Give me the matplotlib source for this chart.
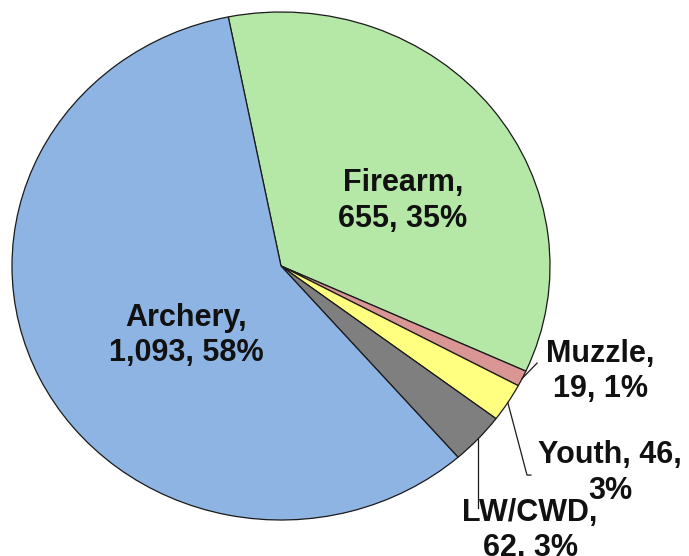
import numpy as np
import matplotlib
matplotlib.use('Agg')
import matplotlib.pyplot as plt

labels = ['Firearm', 'Muzzle', 'Youth', 'LW/CWD', 'Archery']
counts = [655, 19, 46, 62, 1093]
percents = [35, 1, 3, 3, 58]
colors = ['#B5E7A6', '#D99694', '#FFFF80', '#7F7F7F', '#8DB4E2']

plt.rcParams['font.family'] = ['Liberation Sans', 'DejaVu Sans']

fig = plt.figure(figsize=(6.89, 5.56), dpi=100)
ax = fig.add_axes([0, 0, 1, 1])
ax.axis('off')

wedges, _ = ax.pie(counts, colors=colors, startangle=101.3, counterclock=False,
                   radius=1.0, wedgeprops=dict(edgecolor='#1a1a1a', linewidth=0.9))
ax.set_aspect('auto')
ax.set_xlim(-1.0446, 1.5167)
ax.set_ylim(-1.1417, 1.0472)

text_pos = {
    'Firearm': (0.4535, 0.256),
    'Archery': (-0.353, -0.272),
    'Muzzle': (1.186, -0.417),
    'Youth': (1.223, -0.815),
    'LW/CWD': (0.926, -1.043),
}
for lab, n, pct in zip(labels, counts, percents):
    if lab == 'Youth':
        s = f'{lab}, {n:,},\n{pct}%'
    else:
        s = f'{lab},\n{n:,}, {pct}%'
    ax.text(*text_pos[lab], s, ha='center', va='center', fontsize=22,
            fontweight='bold', color='#111111', linespacing=1.22)

# leader lines for the small slices
def edge_point(w):
    mid = np.deg2rad((w.theta1 + w.theta2) / 2)
    return np.cos(mid), np.sin(mid)

leaders = {
    'Muzzle': [(0.952, -0.382)],
    'Youth': [(0.9145, -0.823), (0.929, -0.823)],
    'LW/CWD': [(None, -0.953)],
}
for w, lab in zip(wedges, labels):
    if lab not in leaders:
        continue
    x0, y0 = edge_point(w)
    xs, ys = [x0], [y0]
    for px, py in leaders[lab]:
        xs.append(x0 if px is None else px)
        ys.append(py)
    ax.plot(xs, ys, color='#1a1a1a', lw=0.9)

fig.savefig('out.png', dpi=100)
